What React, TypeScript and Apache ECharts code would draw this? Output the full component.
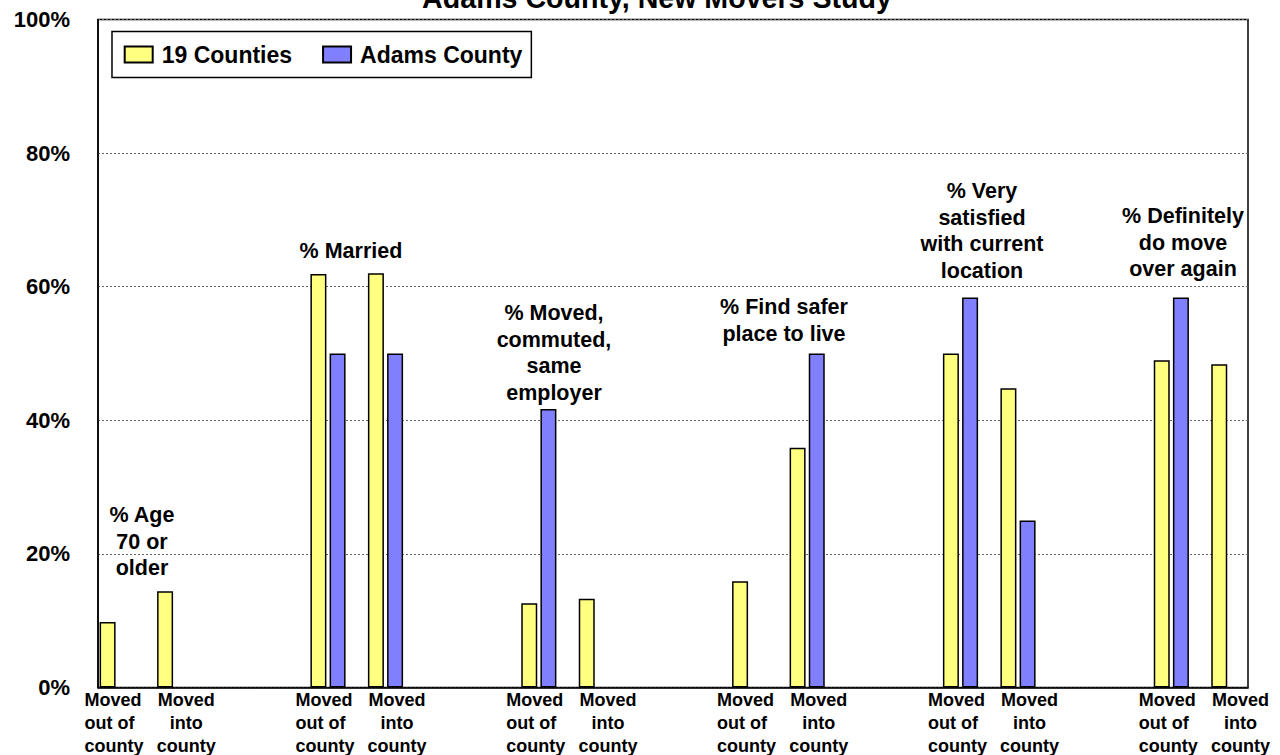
import React, { useEffect, useRef } from "react";
import * as echarts from "echarts";

// ---- Data ----
const measures = [
  "% Age\n70 or\nolder",
  "% Married",
  "% Moved,\ncommuted,\nsame\nemployer",
  "% Find safer\nplace to live",
  "% Very\nsatisfied\nwith current\nlocation",
  "% Definitely\ndo move\nover again",
];
const movedOutLabel = "Moved\nout of\ncounty";
const movedIntoLabel = "Moved\ninto\ncounty";
const seriesNames = ["19 Counties", "Adams County"];
const yTicks = [0, 20, 40, 60, 80, 100];

const counties19Out = [9.8, 61.9, 12.6, 15.9, 50.0, 49.0];
const counties19Into = [14.4, 62.0, 13.3, 35.9, 44.8, 48.4];
const adamsOut: (number | null)[] = [null, 50.0, 41.7, null, 58.4, 58.4];
const adamsInto: (number | null)[] = [null, 50.0, null, 50.0, 25.0, null];

// ---- Slot layout of the category axis (each group: out pair, gap, into pair, spacer) ----
const SLOTS_PER_GROUP = 11;
const TOTAL_SLOTS = SLOTS_PER_GROUP * (measures.length - 1) + 5;

function buildSlots() {
  const yellow: (number | null)[] = new Array(TOTAL_SLOTS).fill(null);
  const blue: (number | null)[] = new Array(TOTAL_SLOTS).fill(null);
  const labels: string[] = new Array(TOTAL_SLOTS).fill("");
  measures.forEach((_, g) => {
    const s = g * SLOTS_PER_GROUP;
    yellow[s] = counties19Out[g];
    blue[s + 1] = adamsOut[g];
    yellow[s + 3] = counties19Into[g];
    blue[s + 4] = adamsInto[g];
    labels[s] = "{o|" + movedOutLabel + "}";
    labels[s + 4] = "{i|" + movedIntoLabel + "}";
  });
  return { yellow, blue, labels };
}

// annotation placement (text layout only)
const annotationPos = [
  { x: 142, y: 515 },
  { x: 351, y: 251 },
  { x: 554, y: 313 },
  { x: 784, y: 307 },
  { x: 982, y: 191 },
  { x: 1183, y: 216 },
];

const FONT = '"Liberation Sans", Arial, Helvetica, sans-serif';

export default function App() {
  const ref = useRef<HTMLDivElement>(null);

  useEffect(() => {
    if (!ref.current) return;
    const chart = echarts.init(ref.current, undefined, { renderer: "svg" });
    const { yellow, blue, labels } = buildSlots();
    const slotIds = labels.map((_, i) => "slot" + i);

    const LH = 26.5;
    const graphics: any[] = [
      {
        type: "text",
        style: {
          text: "Adams County, New Movers Study",
          x: 657,
          y: -2.4,
          align: "center",
          verticalAlign: "middle",
          fontFamily: FONT,
          fontWeight: "bold",
          fontSize: 28.6,
          fill: "#000",
        },
      },
      ...measures.map((m, g) => ({
        type: "text",
        z: 100,
        style: {
          text: m,
          x: annotationPos[g].x,
          y: annotationPos[g].y - LH / 2,
          align: "center",
          verticalAlign: "top",
          lineHeight: LH,
          fontFamily: FONT,
          fontWeight: "bold",
          fontSize: 21.5,
          fill: "#000",
        },
      })),
    ];

    chart.setOption({
      animation: false,
      backgroundColor: "#fff",
      textStyle: { fontFamily: FONT },
      grid: {
        left: 98,
        top: 19.5,
        width: 1150,
        height: 668.8,
        show: true,
        borderColor: "#000",
        borderWidth: 1.5,
        backgroundColor: "transparent",
      },
      legend: {
        data: seriesNames,
        left: 112,
        top: 31.5,
        orient: "horizontal",
        icon: "rect",
        itemWidth: 28,
        itemHeight: 16,
        itemGap: 30,
        padding: [11.5, 9, 11.5, 11.7],
        borderColor: "#000",
        borderWidth: 1.5,
        backgroundColor: "#fff",
        textStyle: {
          fontFamily: FONT,
          fontWeight: "bold",
          fontSize: 23,
          color: "#000",
          padding: [0, 0, 0, 4],
        },
      },
      xAxis: {
        type: "category",
        data: slotIds,
        boundaryGap: true,
        axisLine: { show: true, lineStyle: { color: "#000", width: 1.5 } },
        axisTick: { show: false },
        splitLine: { show: false },
        axisLabel: {
          interval: 0,
          margin: 1,
          color: "#000",
          formatter: (_v: string, i: number) => labels[i],
          rich: {
            o: {
              fontFamily: FONT,
              fontWeight: "bold",
              fontSize: 18,
              lineHeight: 23,
              color: "#000",
              width: 59,
              align: "left",
              padding: [0, 0, 0, 13],
            },
            i: {
              fontFamily: FONT,
              fontWeight: "bold",
              fontSize: 18,
              lineHeight: 23,
              color: "#000",
              padding: [0, 0, 0, 4],
            },
          },
        },
      },
      yAxis: {
        type: "value",
        min: 0,
        max: 100,
        interval: 20,
        axisLine: { show: true, lineStyle: { color: "#000", width: 1.5 } },
        axisTick: { show: false },
        axisLabel: {
          formatter: (v: number) => (yTicks.includes(v) ? v + "%" : ""),
          fontFamily: FONT,
          fontWeight: "bold",
          fontSize: 22,
          color: "#000",
          margin: 28,
        },
        splitLine: {
          show: true,
          lineStyle: { color: "#666", width: 1, type: [2, 2] },
        },
      },
      series: [
        {
          name: seriesNames[0],
          type: "bar",
          data: yellow,
          barWidth: 16,
          barGap: "-100%",
          itemStyle: { color: "#FFFF80", borderColor: "#000", borderWidth: 1.5 },
        },
        {
          name: seriesNames[1],
          type: "bar",
          data: blue,
          barWidth: 16,
          barGap: "-100%",
          itemStyle: { color: "#8080FF", borderColor: "#000", borderWidth: 1.5 },
        },
      ],
      graphic: graphics,
    });

    return () => chart.dispose();
  }, []);

  return (
    <div
      ref={ref}
      style={{ position: "absolute", left: 0, top: 0, width: 1280, height: 755 }}
    />
  );
}
